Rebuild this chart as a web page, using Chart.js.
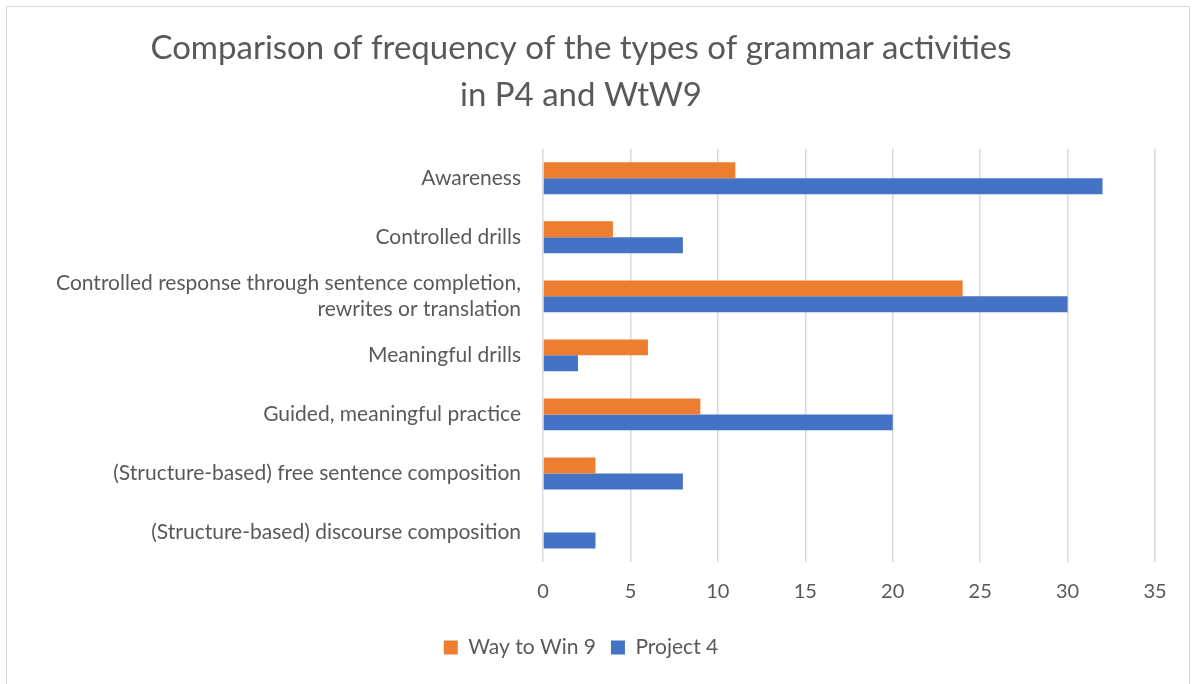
<!DOCTYPE html>
<html>
<head>
<meta charset="utf-8">
<script src="https://cdn.jsdelivr.net/npm/chart.js@4.4.1/dist/chart.umd.min.js"></script>
<style>
  body { margin: 0; background: #fff; }
  #wrap {
    position: absolute; left: 6px; top: 6px;
    width: 1184px; height: 700px;
    border: 1px solid #d9d9d9; box-sizing: border-box;
  }
</style>
</head>
<body>
<div id="wrap"><canvas id="chart"></canvas></div>
<script>
const categories = [
  "Awareness",
  "Controlled drills",
  ["Controlled response through sentence completion,", "rewrites or translation"],
  "Meaningful drills",
  "Guided, meaningful practice",
  "(Structure-based) free sentence composition",
  "(Structure-based) discourse composition"
];
const wayToWin9 = [11, 4, 24, 6, 9, 3, 0];
const project4 = [32, 8, 30, 2, 20, 8, 3];
const xTicks = [0, 5, 10, 15, 20, 25, 30, 35];

const textColor = "#595959";
const fontFamily = "Lato, 'Open Sans', sans-serif";

const ctx = document.getElementById("chart").getContext("2d");
new Chart(ctx, {
  type: "bar",
  data: {
    labels: categories,
    datasets: [
      {
        label: "Way to Win 9",
        data: wayToWin9,
        backgroundColor: "#ed7d31",
        categoryPercentage: 0.54,
        barPercentage: 1.0,
      },
      {
        label: "Project 4",
        data: project4,
        backgroundColor: "#4472c4",
        categoryPercentage: 0.54,
        barPercentage: 1.0,
      },
    ],
  },
  options: {
    indexAxis: "y",
    responsive: true,
    maintainAspectRatio: false,
    animation: false,
    layout: { padding: { top: 18, right: 34, bottom: 37, left: 0 } },
    scales: {
      x: {
        min: 0,
        max: 35,
        afterBuildTicks: (axis) => { axis.ticks = xTicks.map(v => ({ value: v })); },
        grid: { color: "#d9d9d9", lineWidth: 1.5, drawTicks: false },
        border: { display: false },
        ticks: { color: textColor, font: { family: fontFamily, size: 20 }, padding: 18 },
      },
      y: {
        grid: { display: false, drawTicks: false },
        border: { display: false },
        ticks: { color: textColor, font: { family: fontFamily, size: 21 }, padding: 22 },
        afterFit: (axis) => { axis.width = 536; },
      },
    },
    plugins: {
      title: {
        display: true,
        text: ["Comparison of frequency of the types of grammar activities", "in P4 and WtW9"],
        color: textColor,
        font: { family: fontFamily, size: 33, weight: "normal", lineHeight: 1.42 },
        padding: { top: 0, bottom: 30 },
      },
      legend: {
        position: "bottom",
        labels: {
          color: textColor,
          font: { family: fontFamily, size: 21 },
          boxWidth: 14,
          boxHeight: 14,
          padding: 15,
        },
      },
      tooltip: { enabled: false },
    },
  },
});
</script>
</body>
</html>
